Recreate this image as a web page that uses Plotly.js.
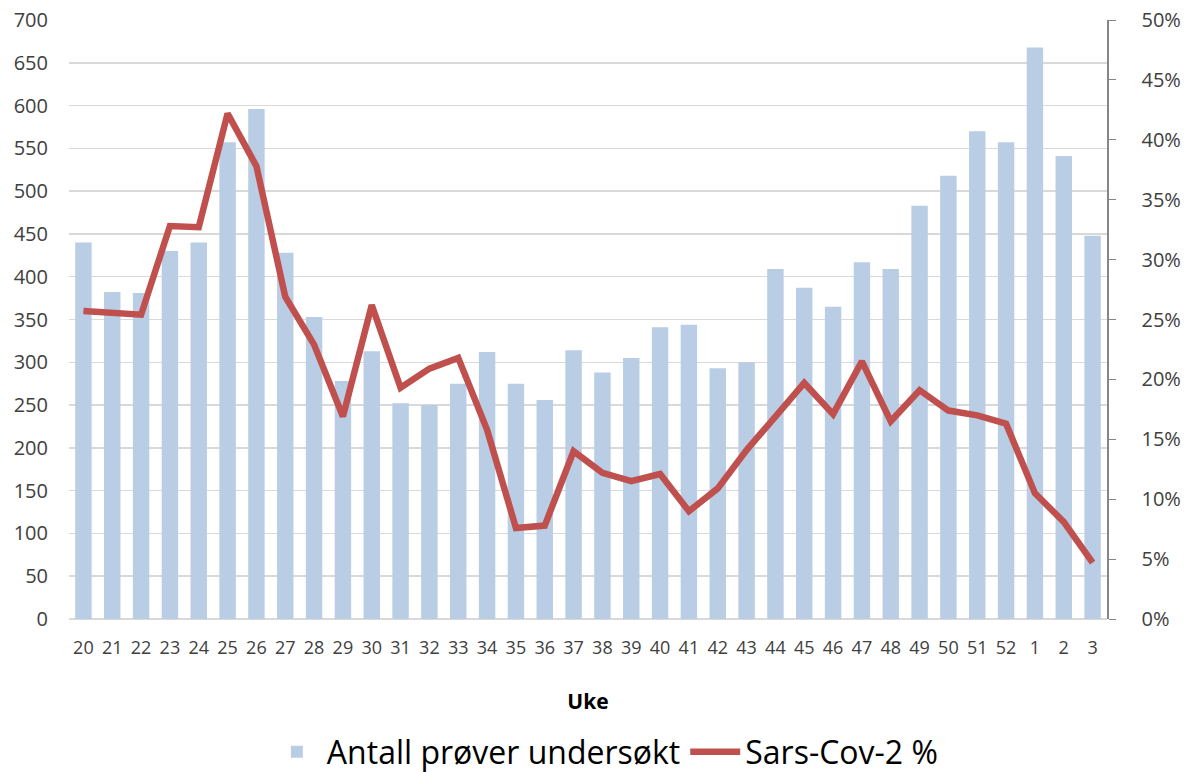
<!DOCTYPE html>
<html>
<head>
<meta charset="utf-8">
<script src="https://cdn.plot.ly/plotly-3.0.1.min.js"></script>
<style>html,body{margin:0;padding:0;background:#fff;}#chart{width:1187px;height:772px;}</style>
</head>
<body>
<div id="chart"></div>
<script>
const weeks = ['20','21','22','23','24','25','26','27','28','29','30','31','32','33','34','35','36','37','38','39','40','41','42','43','44','45','46','47','48','49','50','51','52','1','2','3'];
const samples = [440,382,381,430,440,557,596,428,353,278,313,252,250,275,312,275,256,314,288,305,341,344,293,300,409,387,365,417,409,483,518,570,557,668,541,448];
const sarsPct = [25.7,25.6,25.4,32.8,32.7,42.2,37.8,26.9,22.9,16.9,26.2,19.3,20.9,21.8,15.8,7.6,7.8,14.0,12.2,11.5,12.1,9.0,10.9,14.1,17.0,19.7,17.1,21.5,16.5,19.1,17.4,17.0,16.3,10.5,8.1,4.7];
const leftTicks = [0,50,100,150,200,250,300,350,400,450,500,550,600,650,700];
const rightTicks = [0,5,10,15,20,25,30,35,40,45,50];
const rightTickText = ['0%','5%','10%','15%','20%','25%','30%','35%','40%','45%','50%'];

const tickFont = {family: 'Open Sans, sans-serif', size: 20, color: '#404040'};
const data = [
  {type:'bar', x: weeks, y: samples, name: 'Antall prøver undersøkt',
   marker:{color:'#B9CDE5'}, yaxis:'y'},
  {type:'scatter', mode:'lines', x: weeks, y: sarsPct, name: 'Sars-Cov-2 %',
   line:{color:'#C0504D', width:6.5}, yaxis:'y2'}
];
const layout = {
  width:1187, height:772,
  margin:{l:69, r:80, t:20, b:153},
  paper_bgcolor:'#fff', plot_bgcolor:'#fff',
  bargap:0.43,
  showlegend:true,
  legend:{orientation:'h', x:0.51, xanchor:'center', xref:'container', y:0.026, yanchor:'middle', yref:'container',
          font:{family:'Open Sans, sans-serif', size:32, color:'#000'},
          itemwidth:50, tracegroupgap:0},
  xaxis:{type:'category', tickfont:{family:'Open Sans, sans-serif', size:18, color:'#404040'},
         showgrid:false, ticks:'', showline:false, automargin:false, ticklabelstandoff:16,
         title:{text:'<b>Uke</b>', font:{family:'Open Sans, sans-serif', size:21, color:'#000'}, standoff:36}},
  yaxis:{range:[0,700], tickvals:leftTicks, tickfont:tickFont, showgrid:true, gridcolor:'#d9d9d9', gridwidth:1.5,
         zeroline:true, zerolinecolor:'#d9d9d9', zerolinewidth:1.5, showline:false, ticks:'', automargin:false, ticklabelstandoff:20},
  yaxis2:{range:[0,50], tickvals:rightTicks, ticktext:rightTickText, overlaying:'y', side:'right', tickfont:tickFont,
          showgrid:false, zeroline:false, showline:true, linecolor:'#868686', linewidth:1.5,
          ticks:'outside', ticklen:7, tickcolor:'#868686', automargin:false, ticklabelstandoff:22}
};
Plotly.newPlot('chart', data, layout, {displayModeBar:false, staticPlot:true});
</script>
</body>
</html>
